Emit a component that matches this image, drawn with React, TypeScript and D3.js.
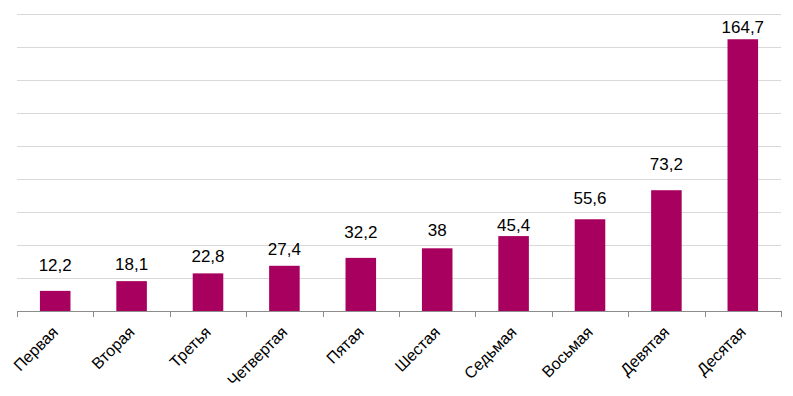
import { useEffect, useRef } from 'react';
import * as d3 from 'd3';

const categories = ['Первая', 'Вторая', 'Третья', 'Четвертая', 'Пятая', 'Шестая', 'Седьмая', 'Восьмая', 'Девятая', 'Десятая'];
const values = [12.2, 18.1, 22.8, 27.4, 32.2, 38, 45.4, 55.6, 73.2, 164.7];
const valueLabels = ['12,2', '18,1', '22,8', '27,4', '32,2', '38', '45,4', '55,6', '73,2', '164,7'];
const gridTicks = [20, 40, 60, 80, 100, 120, 140, 160, 180];

// gap (px) between bar top and its label baseline, as placed in the original
const labelGap = [20, 11.5, 11.5, 11, 20, 12, 5.5, 15, 20, 6];

const barColor = '#a8005f';
const font = 'Liberation Sans, Arial, sans-serif';

export default function App() {
  const ref = useRef<SVGSVGElement>(null);

  useEffect(() => {
    const svg = d3.select(ref.current);
    svg.selectAll('*').remove();

    const left = 17;
    const right = 781;
    const top = 14;
    const bottom = 311;

    const x = d3
      .scaleBand()
      .domain(categories)
      .range([left, right])
      .paddingInner(0.6)
      .paddingOuter(0.3);

    const y = d3.scaleLinear().domain([0, 180]).range([bottom, top]);
    const step = x.step();

    // grid
    svg
      .append('g')
      .selectAll('line')
      .data(gridTicks)
      .enter()
      .append('line')
      .attr('x1', left)
      .attr('x2', right)
      .attr('y1', d => Math.round(y(d)) + 0.5)
      .attr('y2', d => Math.round(y(d)) + 0.5)
      .attr('stroke', '#d9d9d9')
      .attr('stroke-width', 1);

    // bars
    svg
      .append('g')
      .selectAll('rect')
      .data(values)
      .enter()
      .append('rect')
      .attr('x', (d, i) => x(categories[i]))
      .attr('width', x.bandwidth())
      .attr('y', d => y(d))
      .attr('height', d => bottom - y(d))
      .attr('fill', barColor);

    // value labels
    svg
      .append('g')
      .selectAll('text')
      .data(values)
      .enter()
      .append('text')
      .attr('x', (d, i) => x(categories[i]) + x.bandwidth() / 2)
      .attr('y', (d, i) => y(d) - labelGap[i])
      .attr('text-anchor', 'middle')
      .style('font-family', font)
      .style('font-size', '17px')
      .attr('fill', '#000')
      .text((d, i) => valueLabels[i]);

    // x axis
    const axis = svg.append('g');
    axis
      .append('line')
      .attr('x1', left)
      .attr('x2', right)
      .attr('y1', bottom + 0.5)
      .attr('y2', bottom + 0.5)
      .attr('stroke', '#8c8c8c');
    const tickXs = categories.map(c => x(c) - step * 0.3).concat([right]);
    axis
      .selectAll('line.tick')
      .data(tickXs)
      .enter()
      .append('line')
      .attr('class', 'tick')
      .attr('x1', d => Math.round(d) + 0.5)
      .attr('x2', d => Math.round(d) + 0.5)
      .attr('y1', bottom)
      .attr('y2', bottom + 6)
      .attr('stroke', '#8c8c8c');

    axis
      .selectAll('text')
      .data(categories)
      .enter()
      .append('text')
      .attr('transform', d => `translate(${x(d) + x.bandwidth() / 2 + 4},${bottom + 22}) rotate(-45)`)
      .attr('text-anchor', 'end')
      .style('font-family', font)
      .style('font-size', '16px')
      .attr('fill', '#000')
      .text(d => d);
  }, []);

  return (
    <svg
      ref={ref}
      width={793}
      height={396}
      style={{ position: 'absolute', left: 0, top: 0, background: '#fff' }}
    />
  );
}
